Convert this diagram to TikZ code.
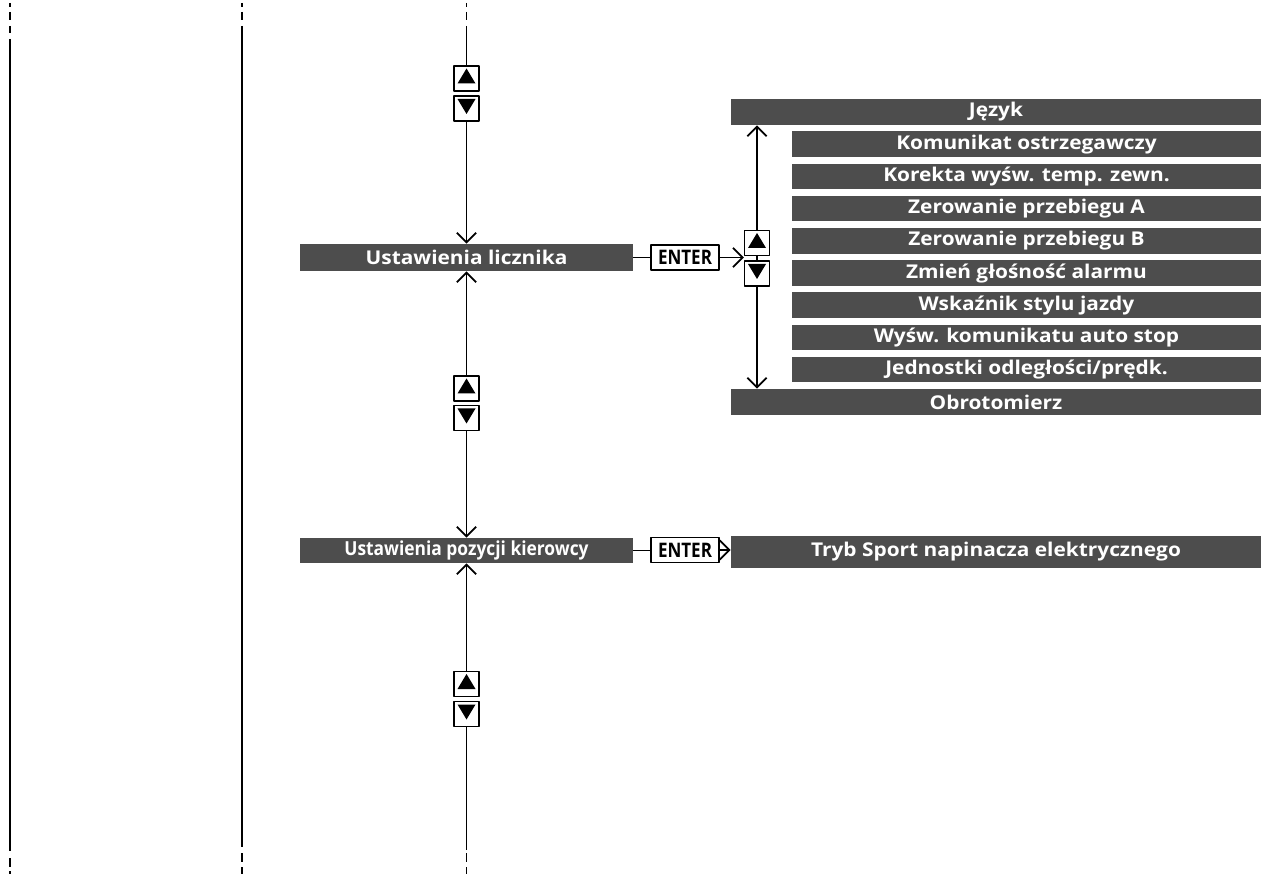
\documentclass[tikz,border=0pt]{standalone}
\usepackage{fontspec}
\setmainfont{Open Sans}
\newfontfamily\barfont[FakeStretch=1.1]{Open Sans}
\newfontfamily\narrowfont[FakeStretch=0.85]{Open Sans}
\newfontfamily\pozfont[FakeStretch=0.9]{Open Sans}
\usetikzlibrary{arrows.meta,calc}
\definecolor{barcol}{RGB}{77,77,77}

\begin{document}
\begin{tikzpicture}[x=0.02cm,y=-0.02cm,line join=round,
    >={Straight Barb[length=5.5pt,width=11pt]},
    rule/.style={line width=1.1pt},
    link/.style={line width=1.05pt},
    bar/.style={fill=barcol,text=white,inner sep=0pt,font=\barfont\bfseries\fontsize{10.8}{12}\selectfont},
    longbar/.style={bar,minimum width=10.6cm,minimum height=0.52cm},
    subbar/.style={bar,minimum width=9.38cm,minimum height=0.51cm},
    menubar/.style={bar,minimum width=6.66cm,minimum height=0.54cm},
    btn/.style={draw,line width=0.6pt,fill=white,inner sep=0pt,minimum width=0.5cm,minimum height=0.5cm},
    enterbox/.style={draw,line width=0.6pt,fill=white,inner sep=0pt,minimum width=1.36cm,minimum height=0.5cm,
        font=\narrowfont\bfseries\fontsize{11.4}{12}\selectfont}]
  \useasboundingbox (0,0) rectangle (1271,874);
  % column rules
  \draw[rule] (10,39) -- (10,851);
  \foreach \a/\b in {3/7,12/20,26/33,858/867,871/874}
    \draw[rule] (10,\a) -- (10,\b);
  \draw[rule] (242,26) -- (242,847);
  \foreach \a/\b in {3/7,12/20,853/862,867/874}
    \draw[rule] (242,\a) -- (242,\b);
  \foreach \a/\b in {3/7,12/20,853/862,867/874}
    \draw[rule] (466.5,\a) -- (466.5,\b);
  \coordinate (c3top) at (466.5,26);
  \coordinate (c3bot) at (466.5,850);

  % main menu column
  \node[btn] (u1) at (466.5,78.5) {};
  \node[btn] (d1) at (466.5,108.5) {};
  \node[menubar] (licz) at (466.5,257.5) {Ustawienia licznika};
  \node[btn] (u2) at (466.5,388.5) {};
  \node[btn] (d2) at (466.5,418) {};
  \node[menubar,minimum height=0.5cm,font=\pozfont\bfseries\fontsize{11}{12}\selectfont] (poz) at (466.5,550.5) {Ustawienia pozycji kierowcy};
  \node[btn] (u3) at (466.5,684) {};
  \node[btn] (d3) at (466.5,714) {};

  \draw[rule] (c3top) -- (u1.north);
  \draw[link,->] (d1.south) -- (licz.north);
  \draw[link,->] (u2.north) -- (licz.south);
  \draw[link,->] (d2.south) -- (poz.north);
  \draw[link,->] (u3.north) -- (poz.south);
  \draw[rule] (d3.south) -- (c3bot);

  % submenu of Ustawienia licznika
  \node[longbar] (jez) at (996,112) {Język};
  \foreach \t [count=\i] in {Komunikat ostrzegawczy,Korekta wyśw. temp. zewn.,Zerowanie przebiegu A,
      Zerowanie przebiegu B,Zmień głośność alarmu,Wskaźnik stylu jazdy,
      Wyśw. komunikatu auto stop,Jednostki odległości/prędk.}
    \node[subbar] (s\i) at (1026.5,{144.25+(\i-1)*32.2}) {\t};
  \node[longbar] (obr) at (996,402) {Obrotomierz};

  \node[btn] (uR) at (757,243) {};
  \node[btn] (dR) at (757,273.5) {};
  \node[enterbox] (ent1) at (685,257.5) {ENTER};
  \coordinate (gapR) at ($(uR.south west)!0.5!(dR.north west)$);

  \draw[link] (licz.east) -- (ent1.west);
  \draw[link,->] (ent1.east) -- (ent1.east -| gapR);
  \draw[link] (uR.south) -- (dR.north);
  \draw[link,->] (uR.north) -- (uR.north |- jez.south);
  \draw[link,->] (dR.south) -- (dR.south |- obr.north);

  % submenu of Ustawienia pozycji kierowcy
  \node[enterbox] (ent2) at (685,550) {ENTER};
  \node[longbar,minimum height=0.64cm] (tryb) at (996,552) {Tryb Sport napinacza elektrycznego};
  \draw[link] (poz.east) -- (poz.east -| ent2.west);
  \draw[link,->] (ent2.east) -- (ent2.east -| tryb.west);

  % triangles on the up/down buttons
  \foreach \b in {u1,u2,u3,uR}
    \fill ([shift={(0,-10)}]\b.center) -- ([shift={(9,5)}]\b.center) -- ([shift={(-9,5)}]\b.center) -- cycle;
  \foreach \b in {d1,d2,d3,dR}
    \fill ([shift={(0,5.5)}]\b.center) -- ([shift={(9,-9.5)}]\b.center) -- ([shift={(-9,-9.5)}]\b.center) -- cycle;
\end{tikzpicture}
\end{document}
